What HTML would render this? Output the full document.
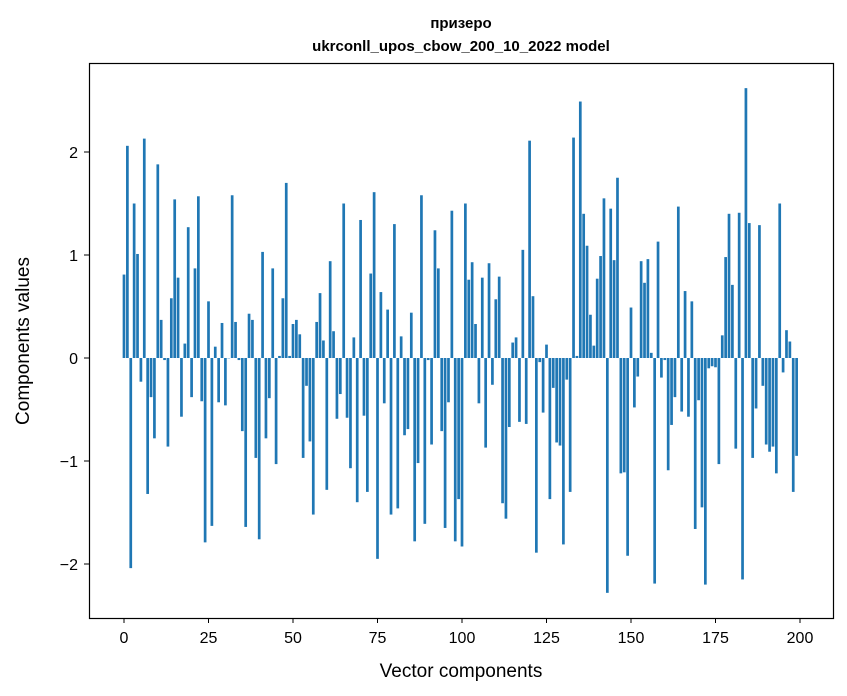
<!DOCTYPE html>
<html><head><meta charset="utf-8"><style>
body{margin:0;background:#fff;}
svg{display:block;font-family:"Liberation Sans","DejaVu Sans",sans-serif;}
</style></head><body>
<svg id="chart" width="847" height="696" viewBox="0 0 847 696" xmlns="http://www.w3.org/2000/svg">
<rect width="847" height="696" fill="#fff"/>
<text x="461" y="28" text-anchor="middle" font-size="15" font-weight="bold">призеро</text>
<text x="461" y="51" text-anchor="middle" font-size="15" font-weight="bold">ukrconll_upos_cbow_200_10_2022 model</text>
<g id="bars"></g>
<g id="xticks"></g>
<g id="yticks"></g>
<rect x="89.5" y="63.5" width="744" height="555" fill="none" stroke="#000" stroke-width="1.2"/>
<text x="461" y="677" text-anchor="middle" font-size="19">Vector components</text>
<text transform="translate(29,341) rotate(-90)" text-anchor="middle" font-size="19">Components values</text>
</svg>
<script>
const values = [0.81,2.06,-2.04,1.50,1.01,-0.23,2.13,-1.32,-0.38,-0.78,1.88,0.37,-0.02,-0.86,0.58,1.54,0.78,-0.57,0.14,1.27,
-0.38,0.87,1.57,-0.42,-1.79,0.55,-1.63,0.11,-0.43,0.34,-0.46,0.0,1.58,0.35,-0.02,-0.71,-1.64,0.43,0.37,-0.97,
-1.76,1.03,-0.78,-0.39,0.87,-1.03,0.02,0.58,1.70,0.02,0.33,0.37,0.23,-0.97,-0.27,-0.81,-1.52,0.35,0.63,0.17,
-1.28,0.94,0.26,-0.59,-0.35,1.50,-0.58,-1.07,0.20,-1.40,1.34,-0.56,-1.30,0.82,1.61,-1.95,0.64,-0.44,0.47,-1.52,
1.30,-1.46,0.21,-0.75,-0.69,0.44,-1.78,-1.02,1.58,-1.61,-0.02,-0.84,1.24,0.87,-0.71,-1.65,-0.43,1.43,-1.78,-1.37,
-1.83,1.50,0.76,0.93,0.33,-0.44,0.78,-0.87,0.92,-0.26,0.57,0.79,-1.41,-1.56,-0.67,0.15,0.20,-0.62,1.05,-0.64,
2.11,0.60,-1.89,-0.04,-0.53,0.13,-1.37,-0.29,-0.82,-0.85,-1.81,-0.21,-1.30,2.14,0.02,2.49,1.40,1.09,0.42,0.12,
0.77,0.99,1.55,-2.28,1.45,0.95,1.75,-1.12,-1.11,-1.92,0.49,-0.48,-0.18,0.94,0.73,0.96,0.05,-2.19,1.13,-0.19,
-0.02,-1.09,-0.65,-0.38,1.47,-0.52,0.65,-0.57,0.55,-1.66,-0.41,-1.45,-2.20,-0.10,-0.08,-0.09,-1.03,0.22,0.98,1.40,
0.71,-0.88,1.41,-2.15,2.62,1.31,-0.97,-0.49,1.29,-0.27,-0.84,-0.91,-0.86,-1.12,1.50,-0.14,0.27,0.16,-1.30,-0.95];
const xTicks = [0,25,50,75,100,125,150,175,200];
const yTicks = [-2,-1,0,1,2];
const yTickLabels = ["\u22122","\u22121","0","1","2"];

const NS="http://www.w3.org/2000/svg";
function xs(v){return 124+v*3.38;}
function ys(v){return 358-v*103;}
const gb=document.getElementById('bars');
values.forEach((v,i)=>{
  const r=document.createElementNS(NS,'rect');
  
  
  const y0=ys(0), y1=ys(v);
  r.setAttribute('x',xs(i-0.4));
  r.setAttribute('width',0.8*3.38);
  r.setAttribute('y',Math.min(y0,y1));
  r.setAttribute('height',Math.max(Math.abs(y1-y0),0.3));
  r.setAttribute('fill','#1f77b4');
  gb.appendChild(r);
});
const gx=document.getElementById('xticks');
xTicks.forEach(t=>{
  const l=document.createElementNS(NS,'line');
  
  
  l.setAttribute('x1',xs(t));l.setAttribute('x2',xs(t));
  l.setAttribute('y1',618);l.setAttribute('y2',623);
  l.setAttribute('stroke','#000');
  gx.appendChild(l);
  const tx=document.createElementNS(NS,'text');
  
  
  tx.setAttribute('x',xs(t));tx.setAttribute('y',643);
  tx.setAttribute('text-anchor','middle');tx.setAttribute('font-size','16');
  tx.textContent=t;
  gx.appendChild(tx);
});
const gy=document.getElementById('yticks');
yTicks.forEach((t,i)=>{
  const l=document.createElementNS(NS,'line');
  
  
  l.setAttribute('x1',84);l.setAttribute('x2',89);
  l.setAttribute('y1',ys(t));l.setAttribute('y2',ys(t));
  l.setAttribute('stroke','#000');
  gy.appendChild(l);
  const tx=document.createElementNS(NS,'text');
  
  
  tx.setAttribute('x',78);tx.setAttribute('y',ys(t)+6);
  tx.setAttribute('text-anchor','end');tx.setAttribute('font-size','16');
  tx.textContent=yTickLabels[i];
  gy.appendChild(tx);
});
</script>
</body></html>
